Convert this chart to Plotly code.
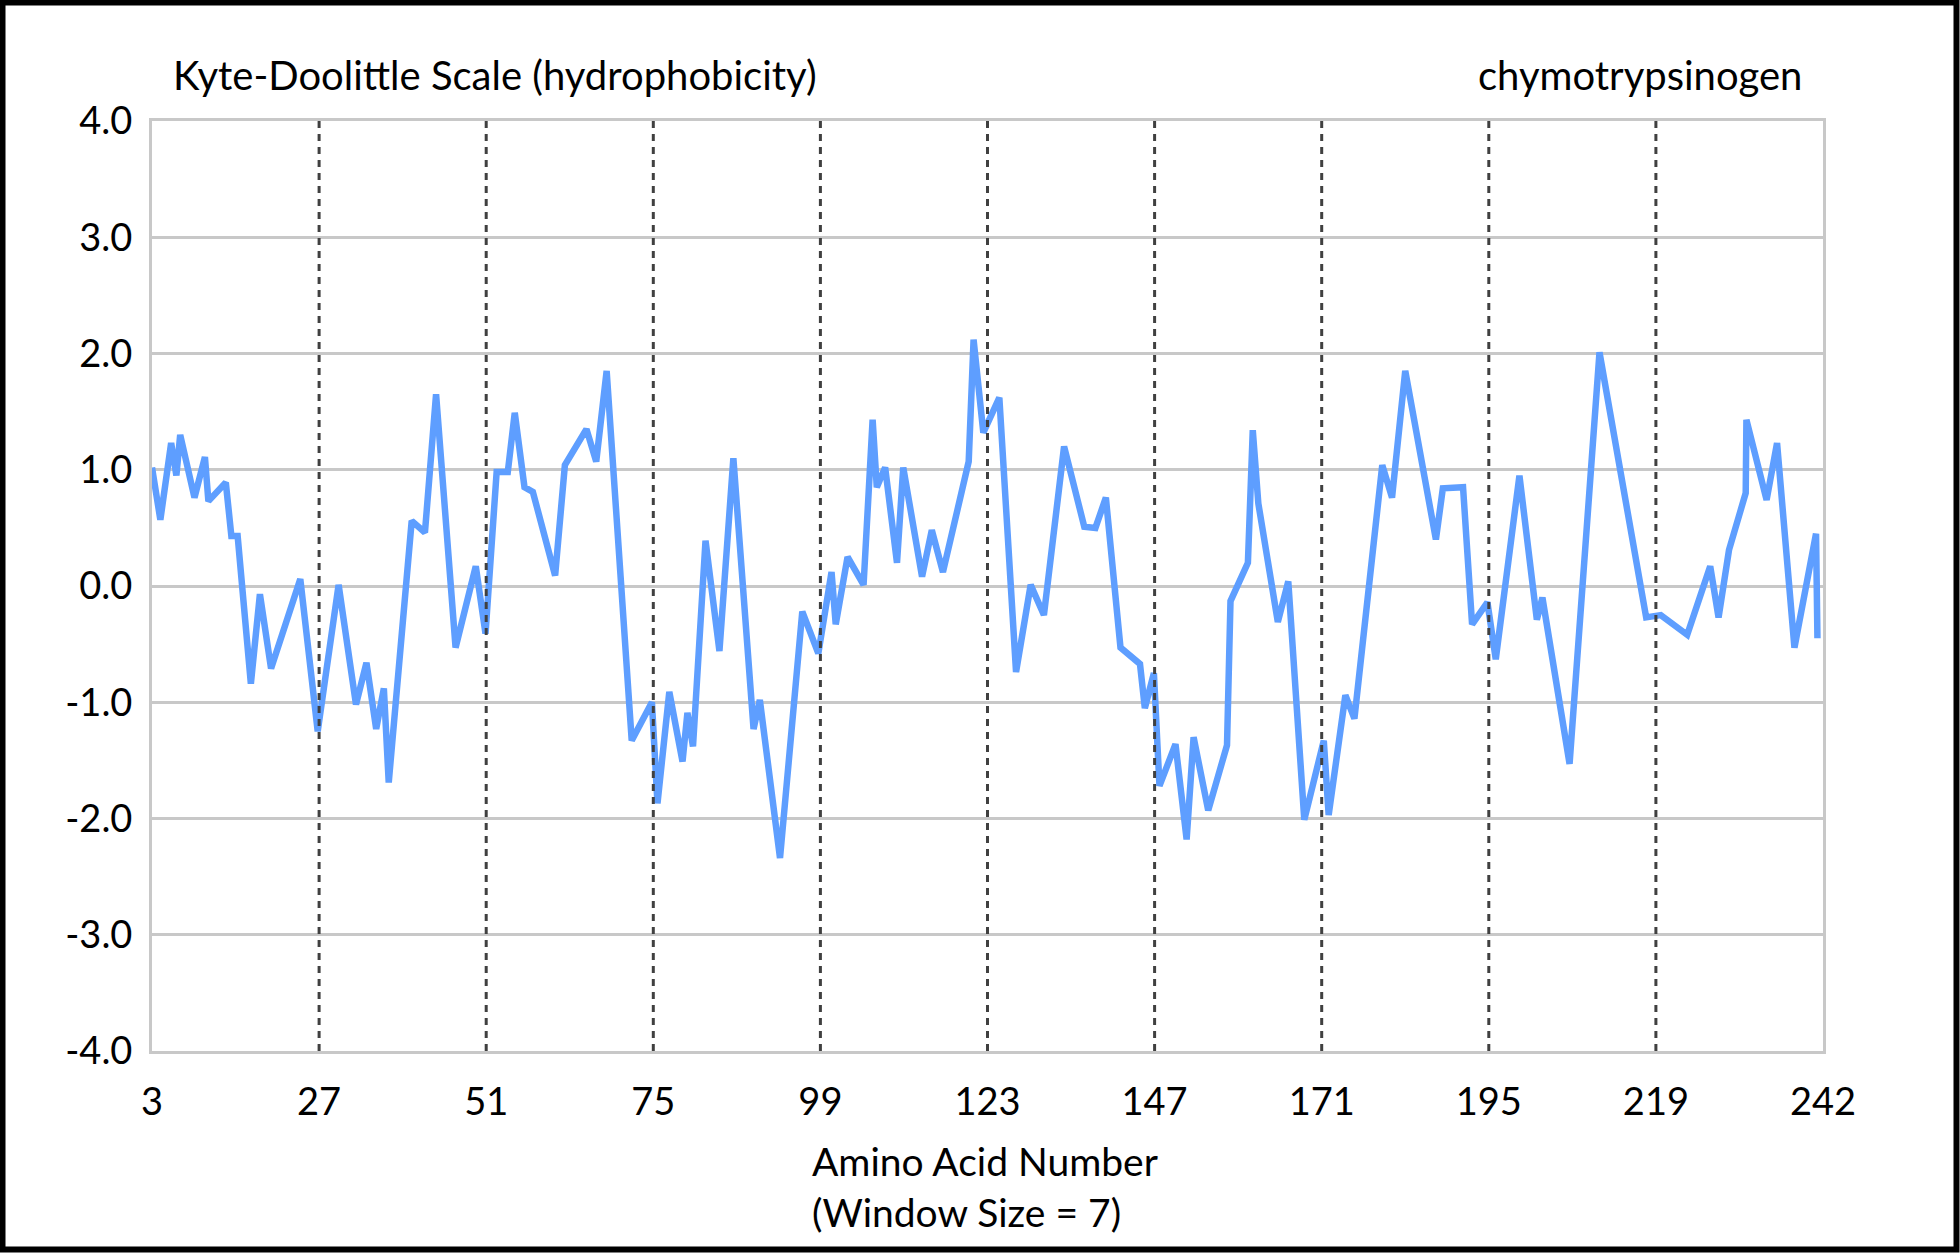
import plotly.graph_objects as go

# amino acid position (window centre) and Kyte-Doolittle hydropathy
residue = [3, 4.2, 5.75, 6.5, 7.05, 9.1, 10.6, 11.1, 13.6, 14.4, 15.3, 17.2, 18.5, 20.1,
           24.3, 26.8, 29.8, 32.3, 33.8, 35.2, 36.3, 37.0, 40.3, 42.2, 43.8, 46.6, 49.5,
           50.9, 52.5, 54.1, 55.1, 56.5, 57.7, 60.9, 62.3, 65.4, 66.8, 68.3, 71.9, 74.8,
           75.6, 77.3, 79.2, 79.9, 80.7, 82.5, 84.5, 86.5, 89.4, 90.3, 93.2, 96.4, 98.7,
           100.6, 101.2, 102.9, 105.2, 106.5, 107.1, 108.3, 110.0, 110.9, 113.6, 115.0,
           116.6, 120.3, 121.0, 122.4, 124.7, 127.1, 129.2, 131.1, 134.0, 136.9, 138.5,
           140.0, 142.1, 144.9, 145.6, 146.9, 147.7, 150.0, 151.6, 152.6, 154.7, 157.4,
           157.9, 160.4, 161.1, 161.9, 164.7, 166.2, 168.5, 171.3, 172.0, 174.4, 175.7,
           179.7, 181.1, 183.0, 187.4, 188.4, 191.3, 192.6, 194.8, 196.0, 199.4, 201.9,
           202.7, 206.6, 210.9, 217.6, 219.7, 223.5, 226.8, 228.0, 229.5, 231.9, 232.0,
           234.9, 236.4, 238.9, 242.0, 242.2]
hydropathy = [1.02, 0.57, 1.23, 0.95, 1.30, 0.76, 1.11, 0.73, 0.89, 0.43, 0.43, -0.84, -0.07, -0.71,
              0.06, -1.25, 0.01, -1.02, -0.66, -1.23, -0.88, -1.69, 0.56, 0.46, 1.65, -0.53, 0.17,
              -0.41, 0.98, 0.98, 1.49, 0.85, 0.81, 0.09, 1.04, 1.35, 1.07, 1.85, -1.33, -1.00,
              -1.87, -0.91, -1.51, -1.09, -1.38, 0.39, -0.56, 1.10, -1.23, -0.98, -2.34, -0.22, -0.58,
              0.12, -0.33, 0.25, 0.01, 1.43, 0.85, 1.02, 0.20, 1.02, 0.08, 0.48,
              0.12, 1.07, 2.12, 1.32, 1.62, -0.74, 0.01, -0.25, 1.20, 0.51, 0.50,
              0.76, -0.53, -0.67, -1.05, -0.75, -1.72, -1.36, -2.18, -1.30, -1.93, -1.37,
              -0.13, 0.20, 1.34, 0.71, -0.31, 0.04, -2.01, -1.33, -1.97, -0.94, -1.14,
              1.04, 0.76, 1.85, 0.40, 0.84, 0.85, -0.33, -0.14, -0.63, 0.95, -0.29,
              -0.10, -1.53, 2.01, -0.27, -0.25, -0.42, 0.17, -0.27, 0.31, 0.80, 1.43,
              0.74, 1.23, -0.53, 0.45, -0.45]

x_ticks = [3, 27, 51, 75, 99, 123, 147, 171, 195, 219, 243]
x_labels = ["3", "27", "51", "75", "99", "123", "147", "171", "195", "219", "242"]
y_ticks = [-4, -3, -2, -1, 0, 1, 2, 3, 4]
y_labels = ["-4.0", "-3.0", "-2.0", "-1.0", "0.0", "1.0", "2.0", "3.0", "4.0"]

W, H = 1960, 1253
L, R, T, B = 152, 137, 121, 202
pw, ph = W - L - R, H - T - B

def px(x):
    return (x - L) / pw

def py(y):
    return (H - B - y) / ph

font = dict(family="Lato, 'Open Sans', sans-serif", color="#000000")

fig = go.Figure()
fig.add_trace(go.Scatter(x=residue, y=hydropathy, mode="lines",
                         line=dict(color="#5e9eff", width=6.5), showlegend=False))

# dashed guides at the inner ticks
for t in x_ticks[1:-1]:
    fig.add_shape(type="line", x0=t, x1=t, y0=-4, y1=4, xref="x", yref="y",
                  line=dict(color="#404040", width=3, dash="7px,6px"), layer="above")

# outer black frame
fig.add_shape(type="rect", xref="paper", yref="paper",
              x0=px(2.5), x1=px(1956.5), y0=py(2.5), y1=py(1249.5),
              line=dict(color="#000000", width=6))

fig.add_annotation(text="Kyte-Doolittle Scale (hydrophobicity)", x=px(171), y=py(75),
                   xref="paper", yref="paper", xanchor="left", yanchor="middle",
                   showarrow=False, font=dict(size=40, **font))
fig.add_annotation(text="chymotrypsinogen", x=px(1804), y=py(75),
                   xref="paper", yref="paper", xanchor="right", yanchor="middle",
                   showarrow=False, font=dict(size=40, **font))
fig.add_annotation(text="Amino Acid Number<br>(Window Size = 7)", x=px(810), y=py(1186),
                   xref="paper", yref="paper", xanchor="left", yanchor="middle", align="left",
                   showarrow=False, font=dict(size=39, **font))

fig.update_xaxes(range=[3, 243], tickvals=x_ticks, ticktext=x_labels, showgrid=False,
                 zeroline=False, showline=True, mirror=True, linecolor="#c8c8c8", linewidth=3,
                 ticks="", ticklabelstandoff=15, tickfont=dict(size=38, **font))
fig.update_yaxes(range=[-4, 4], tickvals=y_ticks, ticktext=y_labels, showgrid=True,
                 gridcolor="#c8c8c8", gridwidth=2.5, zeroline=False, showline=True, mirror=True,
                 linecolor="#c8c8c8", linewidth=3, ticks="", ticklabelstandoff=9,
                 tickfont=dict(size=38, **font))
fig.update_layout(width=W, height=H, margin=dict(l=L, r=R, t=T, b=B),
                  plot_bgcolor="white", paper_bgcolor="white")

fig.write_html("out.html", config={"displayModeBar": False},
               post_script="document.body.style.margin='0';")
